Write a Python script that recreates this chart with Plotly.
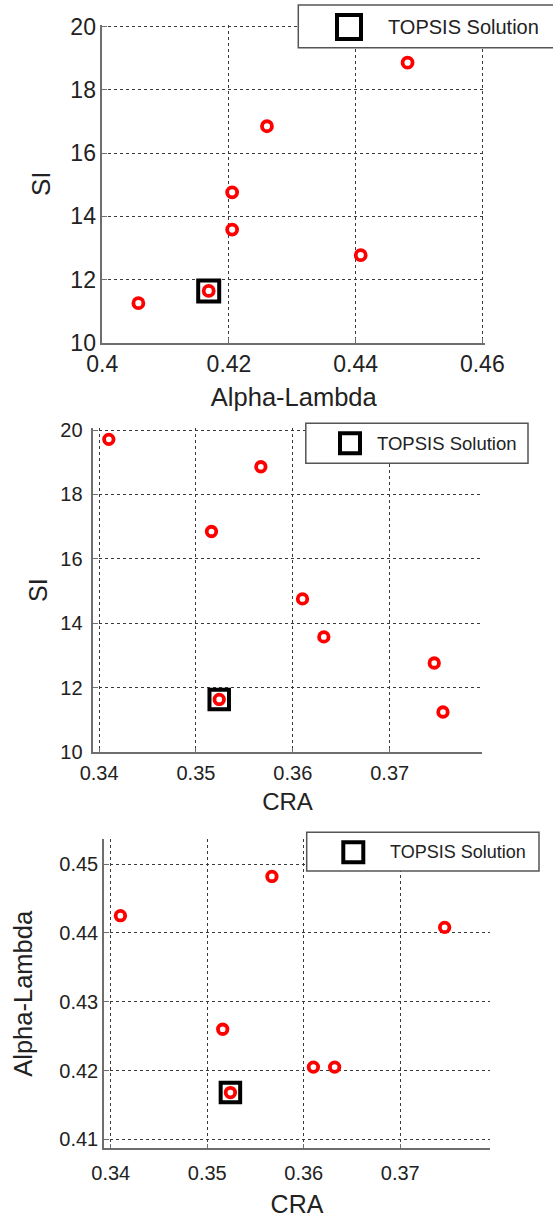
import plotly.graph_objects as go

# ---- data (8 designs) ----
cra = [0.3410, 0.3567, 0.3516, 0.3610, 0.3632, 0.3746, 0.3755]
alpha_lambda = [0.4425, 0.4482, 0.4260, 0.4205, 0.4205, 0.4408, 0.4057]
si = [19.71, 18.86, 16.85, 14.76, 13.58, 12.77, 11.25]

topsis_cra = [0.3524]
topsis_al = [0.4168]
topsis_si = [11.64]
# the TOPSIS design is also one of the candidate points
cand_cra = cra + topsis_cra
cand_al = alpha_lambda + topsis_al
cand_si = si + topsis_si

legend_label = "TOPSIS Solution"

x1_ticks = [0.40, 0.42, 0.44, 0.46]
x1_text = ["0.4", "0.42", "0.44", "0.46"]
si_ticks = [10, 12, 14, 16, 18, 20]
si_text = ["10", "12", "14", "16", "18", "20"]
cra_ticks = [0.34, 0.35, 0.36, 0.37]
cra_text = ["0.34", "0.35", "0.36", "0.37"]
al_ticks = [0.41, 0.42, 0.43, 0.44, 0.45]
al_text = ["0.41", "0.42", "0.43", "0.44", "0.45"]

W, H = 553, 1218
FONT = "Liberation Sans, Arial, sans-serif"
TXT = "#222222"
AXC = "#6e6e6e"
GRIDC = "#3a3a3a"


def px_x(p):
    return p / W


def px_y(p):
    return 1 - p / H


fig = go.Figure()

panels = [
    # (xs, ys, txs, tys, xa, ya, circle size, square size)
    (cand_al, cand_si, topsis_al, topsis_si, "x", "y", 10, 21),
    (cand_cra, cand_si, topsis_cra, topsis_si, "x2", "y2", 9.5, 19.5),
    (cand_cra, cand_al, topsis_cra, topsis_al, "x3", "y3", 9.5, 19.5),
]

for xs, ys, txs, tys, xa, ya, cs, ss in panels:
    fig.add_trace(go.Scatter(
        x=txs, y=tys, xaxis=xa, yaxis=ya, mode="markers", name=legend_label,
        showlegend=False,
        marker=dict(symbol="square-open", size=ss, color="black",
                    line=dict(width=4, color="black")),
    ))
    fig.add_trace(go.Scatter(
        x=xs, y=ys, xaxis=xa, yaxis=ya, mode="markers", showlegend=False,
        marker=dict(symbol="circle-open", size=cs, color="red",
                    line=dict(width=3.8, color="red")),
    ))


def axis(domain, rng, tv, tt, title, tsize, fsize, standoff, tstand):
    return dict(
        domain=domain, range=rng, tickvals=tv, ticktext=tt,
        showline=True, linecolor=AXC, linewidth=1.5, mirror=False,
        showgrid=True, gridcolor=GRIDC, griddash="dot", gridwidth=1,
        zeroline=False, ticks="inside", ticklen=5, tickcolor=AXC,
        ticklabelstandoff=tstand,
        tickfont=dict(size=tsize, family=FONT, color=TXT),
        title=dict(text=title, font=dict(size=fsize, family=FONT, color=TXT),
                   standoff=standoff),
        fixedrange=True,
    )


# panel 1: keep 6350 px per unit on x and 31.6 px per unit on y; extend the
# plotting area by 2 px so that the 0.46 / 20 grid lines are still drawn
layout = dict(
    width=W, height=H,
    margin=dict(l=0, r=0, t=0, b=0, autoexpand=False),
    paper_bgcolor="white", plot_bgcolor="white",
    font=dict(family=FONT, color=TXT),
    showlegend=False,
    xaxis=axis([px_x(102.3), px_x(485.3)], [0.40, 0.46 + 3.0 / 6350], x1_ticks, x1_text,
               "Alpha-Lambda", 23, 25.5, 12, 0),
    yaxis=axis([px_y(342.7), px_y(24.7)], [10, 20 + 2.0 / 31.6], si_ticks, si_text,
               "SI", 23, 26, 12, 0),
    xaxis2=axis([px_x(93.3), px_x(481.7)], [0.3394, 0.3795], cra_ticks, cra_text,
                "CRA", 20, 24, 10, 2),
    yaxis2=axis([px_y(752.3), px_y(428)], [10, 20 + 2.0 / 32.23], si_ticks, si_text,
                "SI", 20, 25, 6, 5),
    xaxis3=axis([px_x(104), px_x(490)], [0.3393, 0.3793], cra_ticks, cra_text,
                "CRA", 20, 25, 12, 6),
    yaxis3=axis([px_y(1148.3), px_y(839.3)], [0.4087, 0.4536], al_ticks, al_text,
                "Alpha-Lambda", 20, 25.5, 19, 0),
)
for i in ("", "2", "3"):
    layout["xaxis" + i]["anchor"] = "y" + i
    layout["yaxis" + i]["anchor"] = "x" + i

# ---- per-panel legend boxes (box, symbol, label) ----
shapes = []
annotations = []
legend_boxes = [
    # (left, right, top, bottom, symbol cx, cy, symbol side, text x, font size)
    (298.3, 560, 5, 47.7, 349, 27, 24, 386, 20),
    (305.8, 528, 423.3, 463.3, 350, 443.3, 20, 375, 18.5),
    (306.7, 539, 832.3, 871, 353.3, 852.3, 20, 388, 18),
]
for l, r, t, b, cx, cy, side, tx, fs in legend_boxes:
    shapes.append(dict(type="rect", xref="paper", yref="paper",
                       x0=px_x(l), x1=px_x(r), y0=px_y(b), y1=px_y(t),
                       fillcolor="white", line=dict(color="#555555", width=1.5),
                       layer="above"))
    shapes.append(dict(type="rect", xref="paper", yref="paper",
                       x0=px_x(cx - side / 2), x1=px_x(cx + side / 2),
                       y0=px_y(cy + side / 2), y1=px_y(cy - side / 2),
                       fillcolor="rgba(0,0,0,0)", line=dict(color="black", width=4),
                       layer="above"))
    annotations.append(dict(xref="paper", yref="paper", x=px_x(tx), y=px_y(cy),
                            xanchor="left", yanchor="middle", showarrow=False,
                            text=legend_label,
                            font=dict(size=fs, family=FONT, color=TXT)))

layout["shapes"] = shapes
layout["annotations"] = annotations

fig.update_layout(**layout)
fig.write_html("out.html")
